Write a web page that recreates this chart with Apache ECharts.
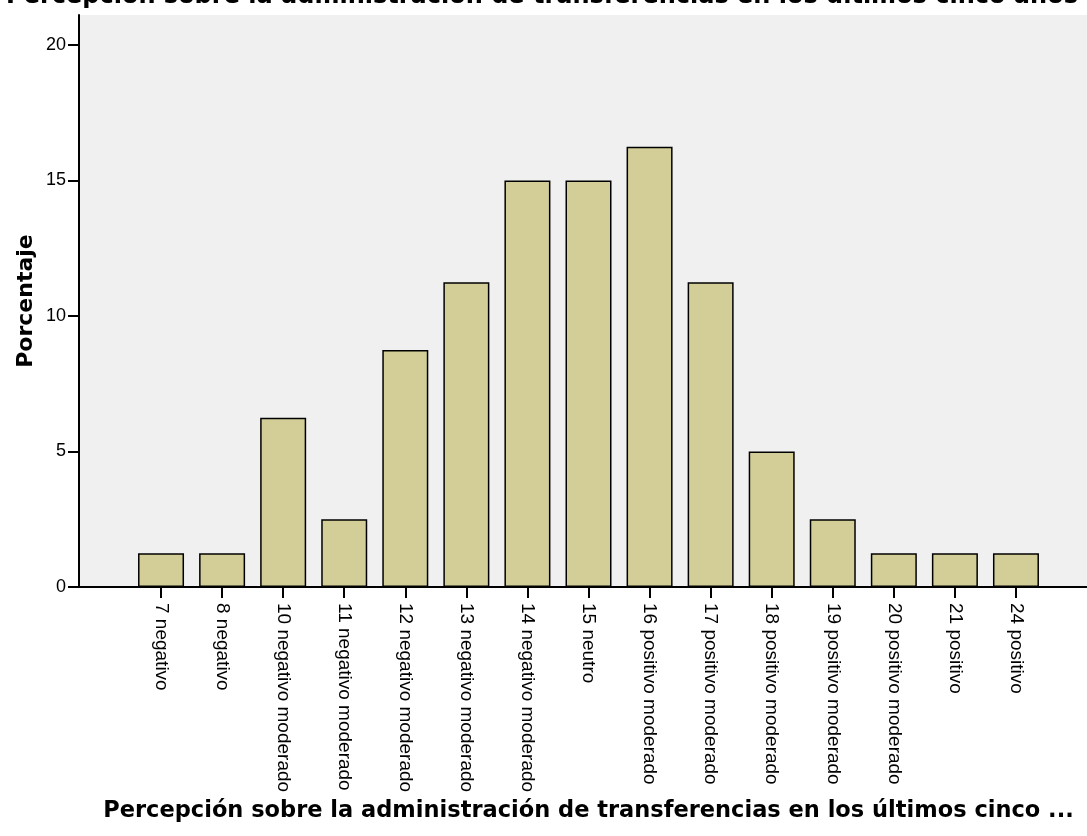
<!DOCTYPE html>
<html><head><meta charset="utf-8">
<script src="https://cdn.jsdelivr.net/npm/echarts@6/dist/echarts.min.js"></script>
<style>html,body{margin:0;padding:0;background:#fff}#c{width:1087px;height:836px}</style>
</head><body><div id="c"></div>
<script>
const categories = ['7 negativo','8 negativo','10 negativo moderado','11 negativo moderado','12 negativo moderado','13 negativo moderado','14 negativo moderado','15 neutro','16 positivo moderado','17 positivo moderado','18 positivo moderado','19 positivo moderado','20 positivo moderado','21 positivo','24 positivo'];
const percentages = [1.25,1.25,6.25,2.5,8.75,11.25,15,15,16.25,11.25,5,2.5,1.25,1.25,1.25];
const yTicks = [0,5,10,15,20];
const titleText = 'Percepción sobre la administración de transferencias en los últimos cinco años';
const xTitle = 'Percepción sobre la administración de transferencias en los últimos cinco ...';
const yTitle = 'Porcentaje';

const font = 'Liberation Sans, Arial, sans-serif';
const bold = 'DejaVu Sans, sans-serif';
const chart = echarts.init(document.getElementById('c'), null, {renderer:'canvas'});
chart.setOption({
  animation:false,
  title:{text:titleText,left:537,textAlign:'center',top:-20,textStyle:{fontFamily:bold,fontWeight:'bold',fontSize:24,color:'#000'}},
  grid:[
    {left:79,top:15,right:-10,bottom:249,show:true,backgroundColor:'#f0f0f0',borderWidth:0},
    {left:130.5,top:45,width:916,bottom:249}
  ],
  xAxis:[
    {gridIndex:0,type:'value',min:0,max:1,axisLine:{show:true,lineStyle:{color:'#000',width:2}},axisTick:{show:false},axisLabel:{show:false},splitLine:{show:false}},
    {gridIndex:1,type:'category',data:categories,axisLine:{show:false},
     axisTick:{show:true,alignWithLabel:true,length:11,lineStyle:{color:'#000',width:2}},
     axisLabel:{rotate:-90,interval:0,margin:16,fontFamily:font,fontSize:19,color:'#000'},
     name:xTitle,nameLocation:'middle',nameGap:213,nameTextStyle:{fontFamily:bold,fontWeight:'bold',fontSize:22.5,color:'#000'}}
  ],
  yAxis:[
    {gridIndex:0,type:'value',min:0,max:1,axisLine:{show:true,lineStyle:{color:'#000',width:2}},axisTick:{show:false},axisLabel:{show:false},splitLine:{show:false},
     name:yTitle,nameLocation:'middle',nameGap:42,nameTextStyle:{fontFamily:bold,fontWeight:'bold',fontSize:22,color:'#000'}},
    {gridIndex:1,type:'value',min:0,max:20,interval:5,axisLine:{show:false},
     axisTick:{show:true,length:11,lineStyle:{color:'#000',width:2}},
     axisLabel:{formatter:v=>yTicks.includes(v)?String(v):'',margin:13,fontFamily:font,fontSize:18,color:'#000'},
     splitLine:{show:false},offset:51.5}
  ],
  series:[{type:'bar',xAxisIndex:1,yAxisIndex:1,data:percentages,barWidth:46,
    itemStyle:{color:'#d3ce98',borderColor:'#000',borderWidth:1.5}}]
});
</script></body></html>
